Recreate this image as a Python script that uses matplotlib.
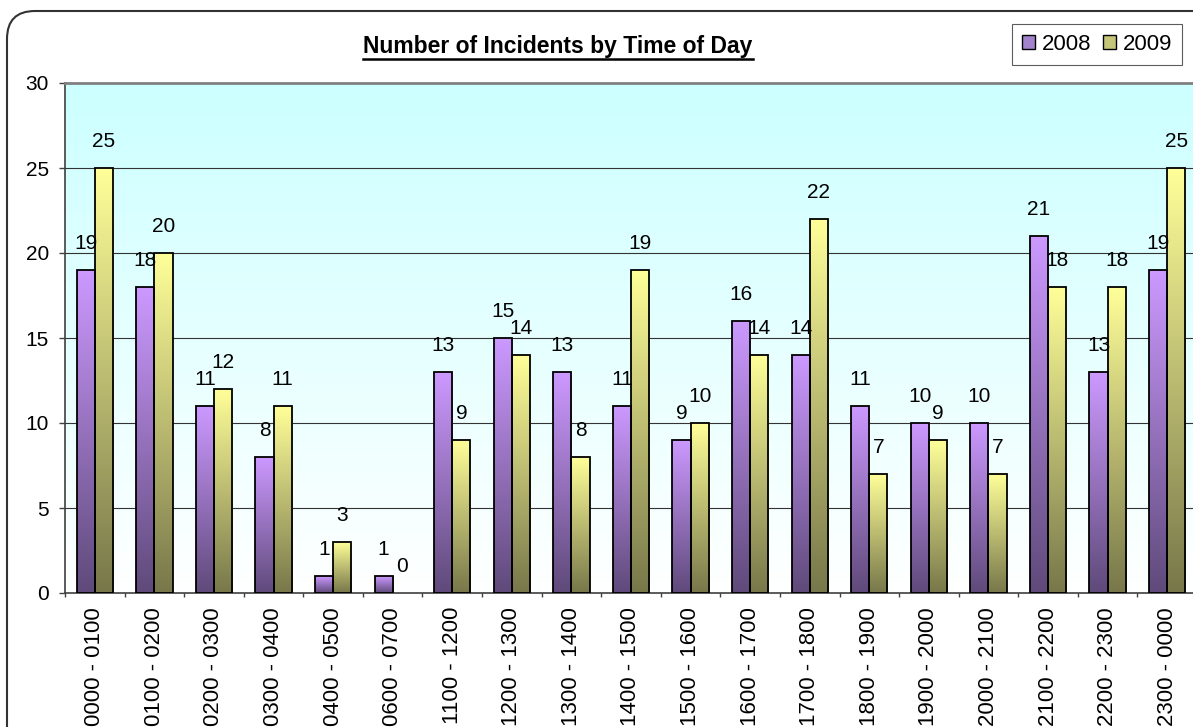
import numpy as np
import matplotlib
matplotlib.use("Agg")
import matplotlib.pyplot as plt
from matplotlib.colors import LinearSegmentedColormap
from matplotlib.patches import FancyBboxPatch, Patch
from matplotlib.lines import Line2D
from matplotlib.transforms import IdentityTransform

plt.rcParams['font.family'] = ['Liberation Sans', 'DejaVu Sans']

# data
slots = ['0000 - 0100', '0100 - 0200', '0200 - 0300', '0300 - 0400', '0400 - 0500',
         '0600 - 0700', '1100 - 1200', '1200 - 1300', '1300 - 1400', '1400 - 1500',
         '1500 - 1600', '1600 - 1700', '1700 - 1800', '1800 - 1900', '1900 - 2000',
         '2000 - 2100', '2100 - 2200', '2200 - 2300', '2300 - 0000']
counts_2008 = [19, 18, 11, 8, 1, 1, 13, 15, 13, 11, 9, 16, 14, 11, 10, 10, 21, 13, 19]
counts_2009 = [25, 20, 12, 11, 3, 0, 9, 14, 8, 19, 10, 14, 22, 7, 9, 7, 18, 18, 25]
years = ['2008', '2009']

W, H = 1193, 727

# colours (top of bar -> bottom of bar)
purple_top, purple_bot = '#CC99FF', '#5F4A7A'
yellow_top, yellow_bot = '#FFFF99', '#77774A'


def vgrad(ax, x0, x1, y0, y1, c_top, c_bot, z):
    """fill a rectangle with a vertical gradient"""
    cmap = LinearSegmentedColormap.from_list('g', [c_bot, c_top])
    grad = np.linspace(0, 1, 256).reshape(-1, 1)
    ax.imshow(grad, cmap=cmap, extent=[x0, x1, y0, y1], origin='lower',
              aspect='auto', zorder=z, interpolation='bicubic')


fig = plt.figure(figsize=(W / 100, H / 100), dpi=100)
fig.patch.set_facecolor('white')

# rounded chart frame (runs off the right / bottom of the picture)
frame = FancyBboxPatch((7, -40), 1240, H - 11 + 40,
                       boxstyle='round,pad=0,rounding_size=28',
                       transform=IdentityTransform(), facecolor='none',
                       edgecolor='#333333', lw=1.5)
fig.add_artist(frame)

ax = fig.add_axes([65 / W, (H - 593) / H, 1132 / W, 510 / H])
ax.patch.set_facecolor('none')

n = len(slots)
x = np.arange(n)
w = 0.305

# plot area background
vgrad(ax, -0.5, n - 0.5, 0, 30, '#CCFFFF', '#FFFFFF', 0)

for yv in range(5, 30, 5):
    ax.axhline(yv, color='#333333', lw=0.8, zorder=1)

bars08 = ax.bar(x - w / 2, counts_2008, w, facecolor='none', edgecolor='black',
                lw=1.3, zorder=3)
bars09 = ax.bar(x + w / 2, counts_2009, w, facecolor='none', edgecolor='black',
                lw=1.3, zorder=3)

for bars, ct, cb in [(bars08, purple_top, purple_bot), (bars09, yellow_top, yellow_bot)]:
    for r in bars:
        h = r.get_height()
        if h > 0:
            vgrad(ax, r.get_x(), r.get_x() + r.get_width(), 0, h, ct, cb, 2)
        else:
            r.set_linewidth(0)
        ax.annotate(str(int(h)), (r.get_x() + r.get_width() / 2, h),
                    xytext=(0, 19), textcoords='offset points',
                    ha='center', va='center', fontsize=15, zorder=4)

ax.set_xlim(-0.5, n - 0.5)
ax.set_ylim(0, 30)

# axes styling
ax.spines['right'].set_visible(False)
ax.spines['top'].set_color('#808080')
ax.spines['top'].set_linewidth(2)
for s in ['left', 'bottom']:
    ax.spines[s].set_color('#404040')
    ax.spines[s].set_linewidth(1.2)

ax.set_yticks(range(0, 31, 5))
ax.tick_params(axis='y', length=4.5, width=1, pad=7, labelsize=15, color='#404040')

ax.set_xticks(np.arange(-0.5, n, 1))
ax.set_xticklabels([])
ax.tick_params(axis='x', which='major', length=3, width=1, color='#404040')
ax.set_xticks(x, minor=True)
ax.set_xticklabels(slots, minor=True, rotation=90, fontsize=16)
ax.tick_params(axis='x', which='minor', length=0, pad=10)

# title with underline
title = fig.text(558 / W, 1 - 53 / H, 'Number of Incidents by Time of Day',
                 ha='center', va='baseline', fontsize=16.5, fontweight='bold')
fig.canvas.draw()
bb = title.get_window_extent()
uy = H - 59
fig.add_artist(Line2D([bb.x0, bb.x1], [uy, uy], transform=IdentityTransform(),
                      color='black', lw=1.8))

# legend
handles = [Patch(facecolor='#A283CC', edgecolor='black'),
           Patch(facecolor='#C6C67A', edgecolor='black')]
leg = fig.legend(handles, years, ncol=2, loc='upper right',
                 bbox_to_anchor=(1182 / W, 1 - 24 / H), frameon=True,
                 fancybox=False, edgecolor='#333333', fontsize=16,
                 handlelength=0.6, handleheight=0.6, handletextpad=0.3,
                 columnspacing=0.5, borderpad=0.45, borderaxespad=0)
leg.get_frame().set_linewidth(0.8)

fig.savefig('out.png', dpi=100)
